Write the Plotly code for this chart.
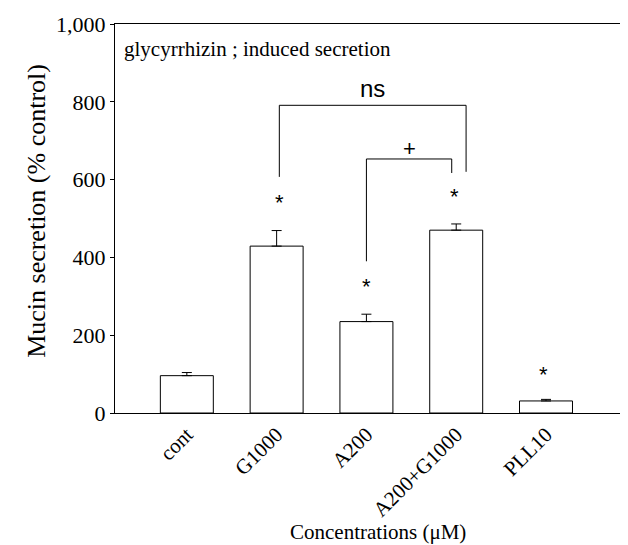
import plotly.graph_objects as go

categories = ["cont", "G1000", "A200", "A200+G1000", "PLL10"]
values = [96, 429, 235, 470, 31]
errors = [8, 40, 19, 16, 4]
star_values = [None, 555, 337, 570, 111]
y_ticks = [0, 200, 400, 600, 800, 1000]
y_tick_labels = ["0", "200", "400", "600", "800", "1,000"]

# brackets: (left index+offset, right index+offset, left bottom, right bottom, top, label, label y)
ns_bracket = (1.03, 3.11, 607, 620, 791, "ns", 835, 24)
plus_bracket = (2.0, 2.95, 390, 617, 653, "+", 681, 22)

serif = "Liberation Serif, Times New Roman, serif"
sans = "Liberation Sans, Arial, sans-serif"

xs = list(range(len(categories)))

fig = go.Figure()
fig.add_trace(go.Bar(
    x=xs, y=values, width=0.59,
    marker=dict(color="white", line=dict(color="black", width=1)),
    error_y=dict(type="data", symmetric=False, array=errors,
                 arrayminus=[0] * len(errors), color="black", thickness=1, width=5),
    showlegend=False,
))

for br in (ns_bracket, plus_bracket):
    xl, xr, yl, yr, yt, lab, ly, fs = br
    fig.add_trace(go.Scatter(
        x=[xl, xl, xr, xr], y=[yl, yt, yt, yr], mode="lines",
        line=dict(color="black", width=1), showlegend=False, hoverinfo="skip"))
    fig.add_annotation(x=(xl + xr) / 2, y=ly, text=lab, showarrow=False,
                       font=dict(family=sans, size=fs, color="black"),
                       xanchor="center", yanchor="middle")

star_offsets = [0, 0.03, 0.0, -0.02, -0.03]
for i, sv in enumerate(star_values):
    if sv is None:
        continue
    fig.add_annotation(x=i + star_offsets[i], y=sv, text="*", showarrow=False,
                       font=dict(family=sans, size=22, color="black"),
                       xanchor="center", yanchor="middle", yshift=-5)

fig.add_annotation(x=0.0135, y=0.935, xref="paper", yref="paper",
                   text="glycyrrhizin ; induced secretion", showarrow=False,
                   font=dict(family=serif, size=21, color="black"),
                   xanchor="left", yanchor="middle")

fig.add_annotation(x=-0.15, y=0.52, xref="paper", yref="paper",
                   text="Mucin secretion (% control)", showarrow=False, textangle=-90,
                   font=dict(family=serif, size=26, color="black"),
                   xanchor="center", yanchor="middle")

fig.add_annotation(x=0.507, y=-0.305, xref="paper", yref="paper",
                   text="Concentrations (μM)", showarrow=False,
                   font=dict(family=serif, size=21, color="black"),
                   xanchor="center", yanchor="middle")

fig.update_layout(
    width=628, height=545,
    margin=dict(l=107, r=2, t=16, b=140),
    paper_bgcolor="white", plot_bgcolor="white",
    xaxis=dict(range=[-0.8, 4.98], tickmode="array", tickvals=xs, ticktext=categories,
               tickangle=-45, showgrid=False, zeroline=False, showline=True,
               linecolor="black", linewidth=1, mirror=True, ticks="",
               tickfont=dict(family=serif, size=21, color="black")),
    yaxis=dict(range=[0, 1000], tickmode="array", tickvals=y_ticks, ticktext=y_tick_labels,
               showgrid=False, zeroline=False, showline=True, linecolor="black",
               linewidth=1, mirror=True, ticks="outside", ticklen=4, tickcolor="black",
               tickfont=dict(family=serif, size=22, color="black")),
)

fig.write_html("out.html")
